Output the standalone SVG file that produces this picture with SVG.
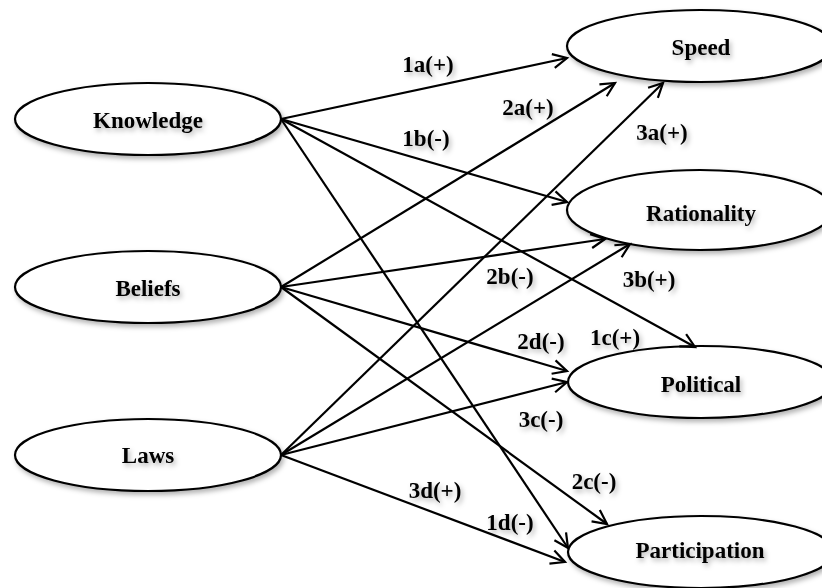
<svg xmlns="http://www.w3.org/2000/svg" width="822" height="588" viewBox="0 0 822 588">
<defs>
<filter id="sh" x="-10%" y="-20%" width="125%" height="150%">
<feDropShadow dx="2" dy="3" stdDeviation="2.5" flood-color="#000" flood-opacity="0.3"/>
</filter>
<marker id="arr" markerUnits="userSpaceOnUse" markerWidth="20" markerHeight="20" viewBox="-16 -10 20 20" refX="0" refY="0" orient="auto">
<path d="M-14,-7 L0,0 L-14,7" fill="none" stroke="#000" stroke-width="2.2" stroke-linejoin="miter"/>
</marker>
</defs>
<style>
.node ellipse{fill:#fff;stroke:#000;stroke-width:2.2;filter:url(#sh)}
.node text{font-family:"Liberation Serif","Times New Roman",serif;font-weight:bold;font-size:23px;text-anchor:middle;fill:#000;filter:url(#sh)}
.edges line{stroke:#000;stroke-width:2.2;marker-end:url(#arr)}
.lbl text{font-family:"Liberation Serif","Times New Roman",serif;font-weight:bold;font-size:23px;text-anchor:middle;fill:#000;filter:url(#sh)}
</style>
<rect width="822" height="588" fill="#fff"/>
<g id="knowledge" class="node"><ellipse cx="148" cy="119" rx="133" ry="36"/><text x="148" y="128">Knowledge</text></g>
<g id="beliefs" class="node"><ellipse cx="148" cy="287" rx="133" ry="36"/><text x="148" y="296">Beliefs</text></g>
<g id="laws" class="node"><ellipse cx="148" cy="455" rx="133" ry="36"/><text x="148" y="463">Laws</text></g>
<g id="speed" class="node"><ellipse cx="700" cy="46" rx="133" ry="36"/><text x="701" y="55">Speed</text></g>
<g id="rationality" class="node"><ellipse cx="700" cy="210" rx="133" ry="40"/><text x="701" y="221">Rationality</text></g>
<g id="political" class="node"><ellipse cx="701" cy="382" rx="133" ry="36"/><text x="701" y="392">Political</text></g>
<g id="participation" class="node"><ellipse cx="701" cy="552" rx="133" ry="36"/><text x="700" y="558">Participation</text></g>
<g id="connectors" class="edges">
<line x1="281" y1="119" x2="567" y2="58"/>
<line x1="281" y1="119" x2="567" y2="202"/>
<line x1="281" y1="119" x2="695" y2="347"/>
<line x1="281" y1="119" x2="568" y2="548"/>
<line x1="281" y1="287" x2="615" y2="83"/>
<line x1="281" y1="287" x2="605" y2="239"/>
<line x1="281" y1="287" x2="567" y2="371"/>
<line x1="281" y1="287" x2="607" y2="524"/>
<line x1="281" y1="455" x2="663" y2="83"/>
<line x1="281" y1="455" x2="630" y2="244"/>
<line x1="281" y1="455" x2="567" y2="382"/>
<line x1="281" y1="455" x2="565" y2="562"/>
</g>
<g id="labels" class="lbl">
<text x="428" y="72">1a(+)</text>
<text x="528" y="115">2a(+)</text>
<text x="426" y="146">1b(-)</text>
<text x="662" y="140">3a(+)</text>
<text x="510" y="284">2b(-)</text>
<text x="649" y="287">3b(+)</text>
<text x="541" y="349">2d(-)</text>
<text x="615" y="345">1c(+)</text>
<text x="541" y="427">3c(-)</text>
<text x="435" y="498">3d(+)</text>
<text x="594" y="489">2c(-)</text>
<text x="510" y="530">1d(-)</text>
</g>
</svg>
